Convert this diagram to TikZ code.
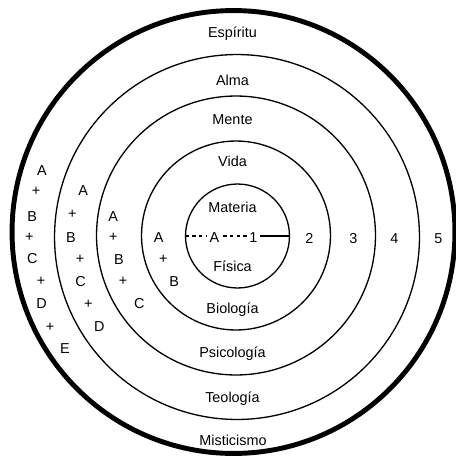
\documentclass[tikz,border=0pt]{standalone}
\usepackage{fontspec}
\setmainfont{Liberation Sans}
\begin{document}
\begin{tikzpicture}[
    x=0.02cm, y=-0.02cm,
    ring/.style={circle, draw, line width=0.75pt, inner sep=0pt, outer sep=0pt},
    outerring/.style={circle, draw, line width=2.8pt, inner sep=0pt, outer sep=0pt},
    lbl/.style={inner sep=0pt, font=\fontsize{8.2}{9.8}\selectfont, text height=0.72em, text depth=0pt},
    dashline/.style={dash pattern=on 2pt off 1.8pt, line width=0.6pt},
    solidline/.style={line width=0.75pt}
]

\useasboundingbox (0,0) rectangle (456,460);

% Rings
\node[ring, minimum size=2.08cm] (r1) at (237.5,236) {};
\node[ring, minimum size=3.78cm] (r2) at (236,235.5) {};
\node[ring, minimum size=5.58cm] (r3) at (236,235.5) {};
\node[ring, minimum size=7.3cm] (r4) at (237,237) {};
\node[outerring, minimum size=8.86cm] (r5) at (233.5,232) {};

% Upper names
\node[lbl] (espiritu) at (232.5,31) {Espíritu};
\node[lbl] (alma) at (232.5,79) {Alma};
\node[lbl] (mente) at (232.5,118.5) {Mente};
\node[lbl] (vida) at (232.5,160) {Vida};
\node[lbl] (materia) at (232.5,206) {Materia};

% Lower names
\node[lbl] (fisica) at (232.5,265.5) {Física};
\node[lbl] (biologia) at (232.5,307) {Biología};
\node[lbl] (psicologia) at (232.5,351) {Psicología};
\node[lbl] (teologia) at (232.5,396.5) {Teología};
\node[lbl] (misticismo) at (233,439.5) {Misticismo};

% Levels
\node[lbl, inner xsep=2pt] (a1) at (214.5,236) {A};
\node[lbl, inner xsep=1.5pt] (n1) at (253.5,236) {1};
\node[lbl] (n2) at (309.5,237.5) {2};
\node[lbl] (n3) at (353.5,237.5) {3};
\node[lbl] (n4) at (394.5,237.5) {4};
\node[lbl] (n5) at (438.5,237.5) {5};

% Sums, ring 2
\node[lbl] (a2) at (158.7,236) {A};
\node[lbl] (p2a) at (163.3,257.3) {+};
\node[lbl] (b2) at (174.3,280) {B};

% Sums, ring 3
\node[lbl] (a3) at (113.3,215) {A};
\node[lbl] (p3a) at (113.3,235.3) {+};
\node[lbl] (b3) at (119,258.3) {B};
\node[lbl] (p3b) at (123,279.3) {+};
\node[lbl] (c3) at (139.3,302.3) {C};

% Sums, ring 4
\node[lbl] (a4) at (83.3,189.3) {A};
\node[lbl] (p4a) at (72.3,211.7) {+};
\node[lbl] (b4) at (71,236) {B};
\node[lbl] (p4b) at (80,257) {+};
\node[lbl] (c4) at (80.7,280) {C};
\node[lbl] (p4c) at (88.3,302.3) {+};
\node[lbl] (d4) at (99.3,325) {D};

% Sums, ring 5
\node[lbl] (a5) at (42,169.3) {A};
\node[lbl] (p5a) at (36,189) {+};
\node[lbl] (b5) at (32.3,215) {B};
\node[lbl] (p5b) at (29.3,235.3) {+};
\node[lbl] (c5) at (32.3,257) {C};
\node[lbl] (p5c) at (41,279.3) {+};
\node[lbl] (d5) at (41.7,302.3) {D};
\node[lbl] (p5d) at (50,325) {+};
\node[lbl] (e5) at (65,346.7) {E};

% Radius
\draw[dashline] (r1.west) -- (a1) -- (n1);
\draw[solidline] (n1) -- (r1.east);

\end{tikzpicture}
\end{document}
